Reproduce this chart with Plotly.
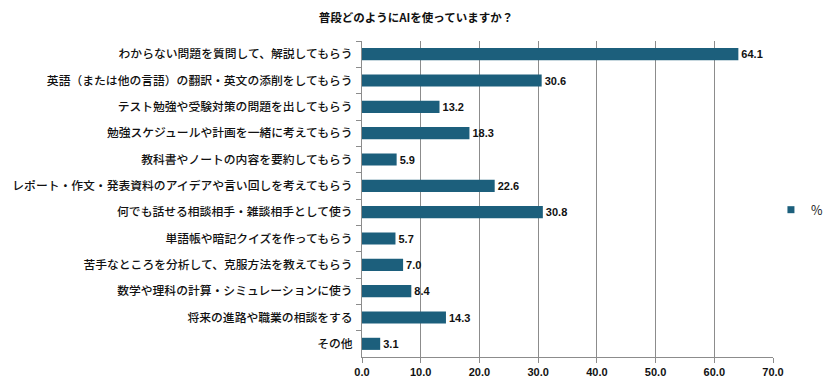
import plotly.graph_objects as go

categories = [
    "わからない問題を質問して、解説してもらう",
    "英語（または他の言語）の翻訳・英文の添削をしてもらう",
    "テスト勉強や受験対策の問題を出してもらう",
    "勉強スケジュールや計画を一緒に考えてもらう",
    "教科書やノートの内容を要約してもらう",
    "レポート・作文・発表資料のアイデアや言い回しを考えてもらう",
    "何でも話せる相談相手・雑談相手として使う",
    "単語帳や暗記クイズを作ってもらう",
    "苦手なところを分析して、克服方法を教えてもらう",
    "数学や理科の計算・シミュレーションに使う",
    "将来の進路や職業の相談をする",
    "その他",
]
values = [64.1, 30.6, 13.2, 18.3, 5.9, 22.6, 30.8, 5.7, 7.0, 8.4, 14.3, 3.1]
series_name = "%"
title = "普段どのようにAIを使っていますか？"
tick_vals = [0, 10, 20, 30, 40, 50, 60, 70]
tick_text = ["0.0", "10.0", "20.0", "30.0", "40.0", "50.0", "60.0", "70.0"]

font = "Noto Sans CJK JP"
numfont = "Liberation Sans"
color = "#1c5f7c"

# page body has an 8px default margin; size the figure to fit the 833x386 window
fig = go.Figure()
fig.add_trace(go.Bar(
    y=categories, x=values, orientation="h", name=series_name,
    marker=dict(color=color, line=dict(width=0)),
    width=0.46,
    text=[f"{v:.1f}" for v in values], textposition="outside",
    textfont=dict(family=numfont, size=11, color="#111111", weight="bold"),
    constraintext="none", cliponaxis=False, showlegend=False,
))
fig.add_trace(go.Scatter(
    x=[None], y=[None], mode="markers", name=series_name,
    marker=dict(symbol="square", size=7, color=color), showlegend=True,
))

fig.update_layout(
    width=825, height=378,
    margin=dict(l=354, r=60, t=33, b=29, autoexpand=False),
    paper_bgcolor="white", plot_bgcolor="white",
    title=dict(text=title, x=(416 - 8) / 825, xanchor="center", y=0.973, yanchor="middle",
               font=dict(family=font, size=11.5, color="#111111", weight="bold")),
    font=dict(family=font, color="#111111"),
    legend=dict(x=0.995, y=0.465, xanchor="left", yanchor="middle",
                font=dict(family=font, size=12.5, color="#222222"),
                itemwidth=30, bgcolor="rgba(0,0,0,0)"),
)
fig.update_xaxes(
    range=[0, 70], tickvals=tick_vals, ticktext=tick_text,
    showgrid=True, gridcolor="#8c8c8c", gridwidth=1,
    showline=True, linecolor="#8c8c8c", linewidth=1,
    ticks="outside", ticklen=5, tickcolor="#8c8c8c",
    tickfont=dict(family=numfont, size=11, color="#111111", weight="bold"),
    zeroline=False,
)
fig.update_yaxes(
    autorange="reversed",
    showline=True, linecolor="#8c8c8c", linewidth=1,
    ticks="outside", ticklen=5, tickcolor="#8c8c8c", tickson="boundaries",
    tickfont=dict(family=font, size=11.8, color="#111111", weight=500),
    ticklabelstandoff=6,
)

fig.write_html("out.html")
